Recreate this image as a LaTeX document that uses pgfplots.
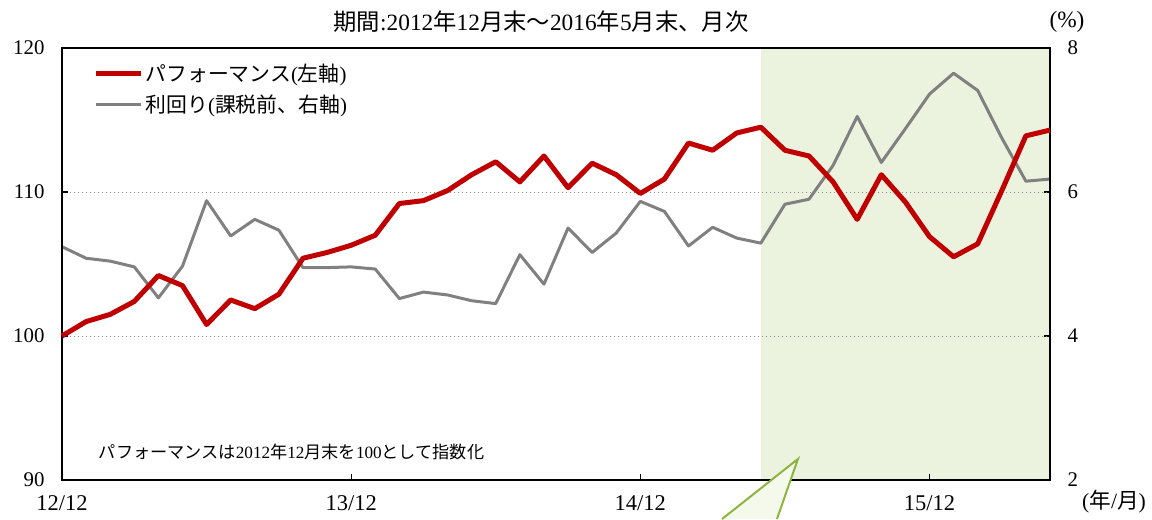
\documentclass[border=0pt]{standalone}
\usepackage{fontspec}
\setmainfont{Liberation Serif}
\newfontfamily\cjk{Noto Sans CJK JP}
\usepackage{pgfplots}
\pgfplotsset{compat=1.18}
\newcommand\J[1]{{\cjk #1}}
\definecolor{perfred}{RGB}{192,0,0}
\definecolor{yldgray}{RGB}{128,128,128}
\definecolor{shade}{RGB}{235,243,222}
\definecolor{callfill}{RGB}{244,249,236}
\definecolor{callline}{RGB}{141,180,60}
\begin{document}
\begin{tikzpicture}
\pgfplotsset{
  base/.style={
    width=592.8pt, height=259.2pt, scale only axis,
    xmin=0, xmax=41,
    tick align=inside, major tick length=3.5pt,
    every tick/.style={black, line width=0.8pt},
    axis line style={line width=1.2pt, -},
    tick label style={font=\fontsize{12.5}{14}\selectfont},
    /pgf/number format/assume math mode=true,
  }
}
% right axis: yield (drawn first so that the red line lies on top)
\begin{axis}[base, set layers, hide x axis, axis y line*=right,
  ymin=2, ymax=8, ytick={2,4,6,8},
  yticklabel style={xshift=7pt}]
\addplot[on layer=axis background, fill=shade, draw=none]
  coordinates {(29,2) (41,2) (41,8) (29,8)} -- cycle;
\addplot[yldgray, line width=1.8pt, line join=round] coordinates {
(0,5.24) (1,5.08) (2,5.04) (3,4.96) (4,4.53) (5,4.97) (6,5.88) (7,5.39)
(8,5.62) (9,5.47) (10,4.95) (11,4.95) (12,4.96) (13,4.93) (14,4.52) (15,4.61)
(16,4.57) (17,4.49) (18,4.45) (19,5.13) (20,4.72) (21,5.50) (22,5.16) (23,5.43)
(24,5.87) (25,5.73) (26,5.25) (27,5.51) (28,5.36) (29,5.29) (30,5.83) (31,5.90)
(32,6.37) (33,7.05) (34,6.41) (35,6.88) (36,7.36) (37,7.65) (38,7.41) (39,6.75)
(40,6.15) (41,6.18)};
\end{axis}
% left axis: performance
\begin{axis}[base,
  ymin=90, ymax=120, ytick={90,100,110,120}, ytick pos=left,
  xtick={0,12,24,36}, xticklabels={12/12,13/12,14/12,15/12}, xtick pos=bottom,
  ymajorgrids, grid style={dotted, gray!90, line width=0.6pt},
  yticklabel style={xshift=-7pt},
  xticklabel style={yshift=-6pt, font=\fontsize{13.5}{15}\selectfont},
  clip=false,
  legend image code/.code={\draw[#1] (0pt,0pt) -- (27pt,0pt);},
  legend cell align=left,
  legend style={at={(rel axis cs:0.032,0.905)}, anchor=west, draw=none, fill=none,
    inner sep=0pt, nodes={inner sep=1pt}, row sep=4.5pt,
    font=\fontsize{12.5}{14}\selectfont},
]
\addplot[perfred, line width=3pt, line join=round] coordinates {
(0,100.0) (1,101.0) (2,101.5) (3,102.4) (4,104.2) (5,103.5) (6,100.8) (7,102.5)
(8,101.9) (9,102.9) (10,105.4) (11,105.8) (12,106.3) (13,107.0) (14,109.2) (15,109.4)
(16,110.1) (17,111.2) (18,112.1) (19,110.7) (20,112.5) (21,110.3) (22,112.0) (23,111.2)
(24,109.9) (25,110.9) (26,113.4) (27,112.9) (28,114.1) (29,114.5) (30,112.9) (31,112.5)
(32,110.7) (33,108.1) (34,111.2) (35,109.3) (36,106.9) (37,105.5) (38,106.4) (39,110.1)
(40,113.9) (41,114.3)};
\addlegendentry{\J{パフォーマンス}(\J{左軸})}
\addlegendimage{yldgray, line width=1.8pt}
\addlegendentry{\J{利回り}(\J{課税前、右軸})}
\node[font=\fontsize{14}{16}\selectfont] at (rel axis cs:0.4848,1.060)
  {\J{期間}:2012\J{年}12\J{月末～}2016\J{年}5\J{月末、月次}};
\node[font=\fontsize{14}{16}\selectfont] at (rel axis cs:1.0172,1.060) {(\%)};
\node[font=\fontsize{13}{15}\selectfont] at (rel axis cs:1.0648,-0.051) {(\J{年}/\J{月})};
\node[anchor=west, font=\fontsize{10.3}{12}\selectfont] at (rel axis cs:0.0314,0.0648)
  {\J{パフォーマンスは}2012\J{年}12\J{月末を}100\J{として指数化}};
\fill[callfill] (axis cs:27.39,87.29) -- (axis cs:30.54,91.46) -- (axis cs:29.67,87.29) -- cycle;
\draw[callline, line width=1.2pt] (axis cs:27.39,87.29) -- (axis cs:30.54,91.46) -- (axis cs:29.67,87.29);
\end{axis}
\pgfresetboundingbox
\useasboundingbox (-37.2pt,-23.4pt) rectangle (654pt,288pt);
\end{tikzpicture}
\end{document}
